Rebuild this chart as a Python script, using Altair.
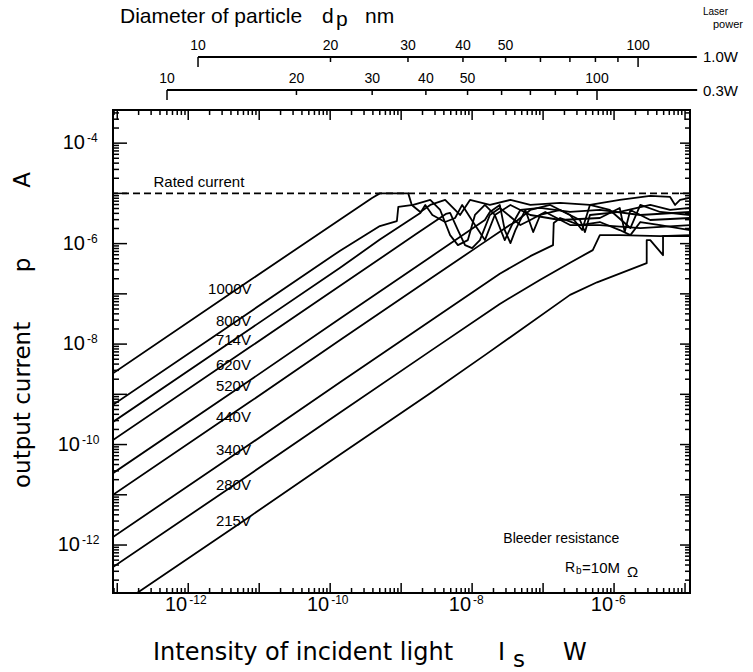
import altair as alt
import pandas as pd

FONT = "Liberation Sans"
WIDE = "DejaVu Sans"

# ---------------- data: log10 of values ----------------
curve_names = ["1000V", "800V", "714V", "620V", "520V", "440V", "340V", "280V", "215V"]

x_1000 = [-13.06, -11.13, -9.86, -9.41, -9.30, -8.90, -8.85, -8.73, -8.59, -8.38, -8.17, -8.03, -7.75, -7.46, -7.18, -6.76, -6.34, -5.92, -5.49, -5.21, -5.14, -5.07, -4.93]
y_1000 = [-8.58, -6.73, -5.52, -5.09, -5.00, -5.00, -5.23, -5.37, -5.23, -5.13, -5.43, -5.13, -5.23, -5.13, -5.23, -5.19, -5.23, -5.13, -5.05, -5.07, -5.23, -5.13, -5.09]

x_800 = [-13.06, -11.13, -9.86, -9.30, -9.06, -9.04, -8.83, -8.59, -8.45, -8.31, -8.20, -8.06, -7.96, -7.82, -7.68, -7.54, -7.44, -7.32, -7.04, -6.62, -6.20, -5.63, -4.93]
y_800 = [-9.21, -7.36, -6.14, -5.65, -5.55, -5.27, -5.23, -5.13, -5.33, -5.83, -6.03, -5.93, -5.43, -5.23, -5.43, -5.93, -5.63, -5.33, -5.29, -5.37, -5.33, -5.43, -5.37]

x_714 = [-13.06, -11.13, -9.86, -9.30, -8.73, -8.66, -8.56, -8.38, -8.24, -8.14, -7.96, -7.82, -7.68, -7.46, -7.18, -6.76, -6.20, -5.92, -5.85, -5.77, -5.49, -4.93]
y_714 = [-9.55, -7.70, -6.48, -5.92, -5.39, -5.23, -5.43, -5.57, -5.49, -5.23, -5.63, -5.93, -5.43, -5.23, -5.43, -5.53, -5.49, -5.29, -5.77, -5.33, -5.53, -5.49]

x_620 = [-13.06, -11.13, -9.86, -8.80, -8.37, -8.31, -8.20, -8.10, -8.00, -7.89, -7.75, -7.61, -7.32, -7.18, -6.97, -6.62, -6.20, -5.63, -4.93]
y_620 = [-9.91, -8.06, -6.84, -5.82, -5.41, -5.39, -5.73, -6.03, -6.09, -5.93, -5.43, -5.29, -5.63, -5.53, -5.37, -5.63, -5.63, -5.69, -5.63]

x_520 = [-13.06, -11.13, -9.86, -8.59, -7.82, -7.75, -7.61, -7.54, -7.46, -7.39, -7.25, -7.14, -7.04, -6.76, -6.48, -6.41, -6.34, -5.92, -5.49, -5.21, -4.93]
y_520 = [-10.57, -8.72, -7.49, -6.27, -5.53, -5.37, -5.23, -5.73, -5.99, -5.73, -5.33, -5.77, -5.43, -5.33, -5.53, -5.77, -5.43, -5.37, -5.23, -5.33, -5.29]

x_440 = [-13.06, -11.13, -9.86, -8.59, -7.89, -7.47, -7.39, -7.18, -6.90, -6.62, -6.45, -6.34, -6.06, -5.77, -5.63, -5.35, -4.93]
y_440 = [-11.00, -9.15, -7.92, -6.70, -6.03, -5.63, -5.57, -5.33, -5.23, -5.43, -5.73, -5.23, -5.33, -5.69, -5.23, -5.37, -5.43]

x_340 = [-13.06, -11.13, -9.86, -8.59, -7.61, -7.18, -6.86, -6.85, -6.76, -6.48, -6.20, -5.92, -5.77, -5.63, -5.35, -4.93]
y_340 = [-11.84, -9.99, -8.76, -7.54, -6.60, -6.25, -6.03, -5.59, -5.49, -5.63, -5.57, -5.73, -5.83, -5.57, -5.63, -5.73]

x_280 = [-13.06, -11.13, -9.86, -8.59, -7.61, -7.04, -6.62, -6.30, -6.20, -5.92, -5.35, -4.93]
y_280 = [-12.44, -10.59, -9.36, -8.14, -7.20, -6.72, -6.38, -6.13, -5.83, -5.83, -5.85, -5.83]

x_215 = [-13.06, -11.13, -9.86, -8.59, -7.79, -6.62, -6.24, -5.54, -5.54, -5.49, -5.31, -5.31, -4.93]
y_215 = [-13.28, -11.43, -10.20, -8.98, -8.19, -7.02, -6.77, -6.39, -5.93, -5.93, -6.23, -5.85, -5.85]

curve_x = [x_1000, x_800, x_714, x_620, x_520, x_440, x_340, x_280, x_215]
curve_y = [y_1000, y_800, y_714, y_620, y_520, y_440, y_340, y_280, y_215]

# curve labels (log10 positions)
label_x = [-11.72, -11.61, -11.61, -11.61, -11.61, -11.61, -11.61, -11.61, -11.61]
label_y = [-6.91, -7.54, -7.92, -8.42, -8.84, -9.45, -10.11, -10.81, -11.52]

rated_current = 1e-5

x_domain_exp = [-13.06, -4.93]
y_domain_exp = [-12.955, -3.34]
x_label_exps = [-12, -10, -8, -6]
y_label_exps_1 = [-4, -6, -8]
y_label_exps_2 = [-10, -12]

# particle diameter scales (nm)
d_ticks_major = [10, 100]
d_ticks_minor = [20, 30, 40, 50, 60, 70, 80, 90]
d_labels = [10, 20, 30, 40, 50, 100]
d_end_10W = 136
d_end_03W = 171
d_domain_10W = [10 ** 0.8068, 10 ** 2.118]
d_domain_03W = [10 ** 0.8744, 10 ** 2.2163]

# ---------------- build tables ----------------
rows = []
for name, xs_, ys_ in zip(curve_names, curve_x, curve_y):
    for i, (a, b) in enumerate(zip(xs_, ys_)):
        rows.append({"curve": name, "i": i, "x": 10 ** a, "y": 10 ** b})
curves_df = pd.DataFrame(rows)

labels_df = pd.DataFrame({"t": curve_names,
                          "x": [10 ** v for v in label_x],
                          "y": [10 ** v for v in label_y]})

W, H = 577, 483
XMIN, XMAX = 10 ** x_domain_exp[0], 10 ** x_domain_exp[1]
YMIN, YMAX = 10 ** y_domain_exp[0], 10 ** y_domain_exp[1]

xscale = alt.Scale(type="log", domain=[XMIN, XMAX], nice=False)
yscale = alt.Scale(type="log", domain=[YMIN, YMAX], nice=False)


def X(f):
    return alt.X(f, type="quantitative", scale=xscale, axis=None)


def Y(f):
    return alt.Y(f, type="quantitative", scale=yscale, axis=None)


def decades(lo, hi, minor):
    out = []
    for d in range(-15, 0):
        ks = range(2, 10) if minor else [1]
        for k in ks:
            v = k * 10.0 ** d
            if lo <= v <= hi:
                out.append(v)
    return out


xmaj = pd.DataFrame({"v": decades(XMIN, XMAX, False)})
xmin_ = pd.DataFrame({"v": decades(XMIN, XMAX, True)})
ymaj = pd.DataFrame({"v": decades(YMIN, YMAX, False)})
ymin_ = pd.DataFrame({"v": decades(YMIN, YMAX, True)})

lines = alt.Chart(curves_df).mark_line(color="black", strokeWidth=1.8, clip=True,
                                       strokeJoin="round").encode(
    x=X("x"), y=Y("y"), detail="curve:N", order="i:Q")

rated = alt.Chart(pd.DataFrame({"y": [rated_current]})).mark_rule(
    color="black", strokeWidth=1.8, strokeDash=[7, 4]).encode(y=Y("y"))

rated_txt = alt.Chart(pd.DataFrame({"x": [10 ** -12.49], "y": [rated_current], "t": ["Rated current"]})).mark_text(
    align="left", baseline="bottom", dy=-3, fontSize=15).encode(x=X("x"), y=Y("y"), text="t:N")

curve_lbls = alt.Chart(labels_df).mark_text(align="left", baseline="middle", fontSize=15).encode(
    x=X("x"), y=Y("y"), text="t:N")

bleeder = alt.Chart(pd.DataFrame({"x": [10 ** -7.56], "y": [10 ** -11.88], "t": ["Bleeder resistance"]})).mark_text(
    align="left", baseline="middle", fontSize=14).encode(x=X("x"), y=Y("y"), text="t:N")

rb_parts = []
for txt, dx, dy, fs in [("R", 0, 0, 14), ("b", 11, 3, 10), ("=10M", 17, 0, 15), ("Ω", 62, 4, 15)]:
    rb_parts.append(alt.Chart(pd.DataFrame({"x": [10 ** -6.69], "y": [10 ** -12.46], "t": [txt]})).mark_text(
        align="left", baseline="middle", dx=dx, dy=dy, fontSize=fs).encode(x=X("x"), y=Y("y"), text="t:N"))

tick_w = 1.5
ticks = [
    alt.Chart(xmaj).mark_rule(color="black", strokeWidth=tick_w).encode(x=X("v"), y=alt.value(H), y2=alt.value(H - 10)),
    alt.Chart(xmin_).mark_rule(color="black", strokeWidth=tick_w).encode(x=X("v"), y=alt.value(H), y2=alt.value(H - 5)),
    alt.Chart(xmaj).mark_rule(color="black", strokeWidth=tick_w).encode(x=X("v"), y=alt.value(0), y2=alt.value(10)),
    alt.Chart(xmin_).mark_rule(color="black", strokeWidth=tick_w).encode(x=X("v"), y=alt.value(0), y2=alt.value(5)),
    alt.Chart(ymaj).mark_rule(color="black", strokeWidth=tick_w).encode(y=Y("v"), x=alt.value(0), x2=alt.value(14)),
    alt.Chart(ymin_).mark_rule(color="black", strokeWidth=tick_w).encode(y=Y("v"), x=alt.value(0), x2=alt.value(6)),
    alt.Chart(ymaj).mark_rule(color="black", strokeWidth=tick_w).encode(y=Y("v"), x=alt.value(W), x2=alt.value(W - 10)),
    alt.Chart(ymin_).mark_rule(color="black", strokeWidth=tick_w).encode(y=Y("v"), x=alt.value(W), x2=alt.value(W - 5)),
]

# axis labels 10^n
xl = pd.DataFrame({"v": [10.0 ** e for e in x_label_exps], "e": [str(e) for e in x_label_exps]})
ax_labels = [
    alt.Chart(xl).mark_text(align="right", baseline="middle", fontSize=20, dx=-1).encode(
        x=X("v"), y=alt.value(H + 12), text=alt.value("10")),
    alt.Chart(xl).mark_text(align="left", baseline="middle", fontSize=12, dx=1).encode(
        x=X("v"), y=alt.value(H + 7), text="e:N"),
]
for exps, ten_x, exp_x in [(y_label_exps_1, -28, -26), (y_label_exps_2, -33, -31)]:
    yl = pd.DataFrame({"v": [10.0 ** e for e in exps], "e": [str(e) for e in exps]})
    ax_labels.append(alt.Chart(yl).mark_text(align="right", baseline="middle", fontSize=20).encode(
        y=Y("v"), x=alt.value(ten_x), text=alt.value("10")))
    ax_labels.append(alt.Chart(yl).mark_text(align="left", baseline="middle", fontSize=12, dy=-5).encode(
        y=Y("v"), x=alt.value(exp_x), text="e:N"))


def ann(txt, x, y, size, font=FONT, **kw):
    return alt.Chart(pd.DataFrame({"t": [txt]})).mark_text(fontSize=size, font=font, **kw).encode(
        x=alt.value(x), y=alt.value(y), text="t:N")


titles = [
    ann("output current", -83, 378, 23, font=WIDE, angle=270, align="left", baseline="alphabetic"),
    ann("p", -83, 155, 23, font=WIDE, angle=270, align="center", baseline="alphabetic"),
    ann("A", -83, 70, 23, font=WIDE, angle=270, align="center", baseline="alphabetic"),
    ann("Intensity of incident light", 40, 550, 24, font=WIDE, align="left", baseline="alphabetic"),
    ann("I", 385, 550, 24, font=WIDE, align="left", baseline="alphabetic"),
    ann("s", 400, 557, 23, font=WIDE, align="left", baseline="alphabetic"),
    ann("W", 450, 550, 24, font=WIDE, align="left", baseline="alphabetic"),
    ann("Diameter of particle", 7, -93, 21, align="left", baseline="middle"),
    ann("d", 209, -93, 21, align="left", baseline="middle"),
    ann("p", 223, -90, 21, align="left", baseline="middle"),
    ann("nm", 252, -93, 21, align="left", baseline="middle"),
    ann("Laser", 590, -98, 10, align="left", baseline="middle"),
    ann("power", 600, -85, 11, align="left", baseline="middle"),
    ann("1.0W", 590, -53, 15, align="left", baseline="middle"),
    ann("0.3W", 590, -19, 15, align="left", baseline="middle"),
]

main = alt.layer(lines, rated, rated_txt, curve_lbls, bleeder, *rb_parts, *ticks, *ax_labels, *titles)


def top_axis(domain, d_end, y_line, y_label):
    ds = alt.Scale(type="log", domain=domain, nice=False)
    line = alt.Chart(pd.DataFrame({"a": [10], "b": [d_end]})).mark_rule(color="black", strokeWidth=2).encode(
        x=alt.X("a:Q", scale=ds, axis=None), x2="b:Q", y=alt.value(y_line))
    tmaj = alt.Chart(pd.DataFrame({"d": d_ticks_major})).mark_rule(color="black", strokeWidth=1.5).encode(
        x=alt.X("d:Q", scale=ds, axis=None), y=alt.value(y_line), y2=alt.value(y_line + 10))
    tmin = alt.Chart(pd.DataFrame({"d": d_ticks_minor})).mark_rule(color="black", strokeWidth=1.5).encode(
        x=alt.X("d:Q", scale=ds, axis=None), y=alt.value(y_line), y2=alt.value(y_line + 5))
    lbl = alt.Chart(pd.DataFrame({"d": d_labels, "t": [str(v) for v in d_labels]})).mark_text(
        fontSize=14, align="center", baseline="bottom").encode(
        x=alt.X("d:Q", scale=ds, axis=None), y=alt.value(y_label), text="t:N")
    return alt.layer(line, tmaj, tmin, lbl)


top10 = top_axis(d_domain_10W, d_end_10W, -53, -57)
top03 = top_axis(d_domain_03W, d_end_03W, -20, -24)

chart = alt.layer(main, top10, top03).resolve_scale(x="independent").properties(
    width=W, height=H,
    autosize=alt.AutoSizeParams(type="none"),
    padding={"left": 113, "top": 110, "right": 63, "bottom": 79},
).configure_view(stroke="black", strokeWidth=2).configure_text(font=FONT, color="black")

chart.save("out.html", embed_options={"renderer": "svg", "actions": False})
